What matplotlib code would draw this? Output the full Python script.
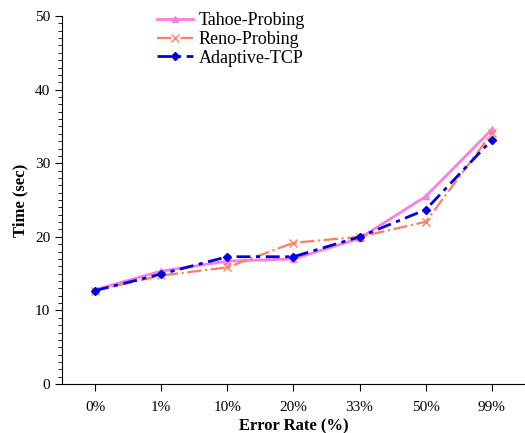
import matplotlib
matplotlib.use('Agg')
import matplotlib.pyplot as plt
from matplotlib.ticker import MultipleLocator

plt.rcParams['font.family'] = 'Liberation Serif'

rates = ['0%', '1%', '10%', '20%', '33%', '50%', '99%']
tahoe = [12.8, 15.35, 16.7, 17.0, 19.8, 25.5, 34.6]
reno = [12.7, 14.75, 15.85, 19.2, 20.0, 22.05, 34.1]
adaptive = [12.7, 14.95, 17.3, 17.3, 20.0, 23.7, 33.2]

x = list(range(len(rates)))

fig = plt.figure(figsize=(5.25, 4.33), dpi=100)
ax = fig.add_axes([0.118, 0.113, 0.882, 0.85])

ax.plot(x, tahoe, color='#F77FE6', linestyle='-', linewidth=2,
        marker='^', markersize=5, label='Tahoe-Probing')
ax.plot(x, reno, color='#FF7F5C', linestyle='-.', linewidth=1.6,
        marker='x', markersize=6, label='Reno-Probing')
ax.plot(x, adaptive, color='#0000E0', linestyle=(0, (5, 2, 1.5, 2)), linewidth=2,
        marker='D', markersize=4.5, label='Adaptive-TCP')

ax.set_xlim(-0.5, 6.5)
ax.set_ylim(0, 50)
ax.set_xticks(x)
ax.set_xticklabels(rates)
ax.yaxis.set_major_locator(MultipleLocator(10))
ax.yaxis.set_minor_locator(MultipleLocator(1))
ax.tick_params(axis='both', which='major', labelsize=11, direction='out', length=5)
ax.tick_params(axis='x', pad=7)
ax.tick_params(axis='y', which='minor', direction='out', length=3)

ax.spines['top'].set_visible(False)
ax.spines['right'].set_visible(False)

ax.set_xlabel('Error Rate (%)', fontsize=12, fontweight='bold', labelpad=3)
ax.set_ylabel('Time (sec)', fontsize=12, fontweight='bold', labelpad=5)

ax.legend(loc='upper left', bbox_to_anchor=(0.17, 1.055), frameon=False,
          fontsize=13, handlelength=2, handletextpad=0.3, labelspacing=0.1)

fig.savefig('out.png', dpi=100)
